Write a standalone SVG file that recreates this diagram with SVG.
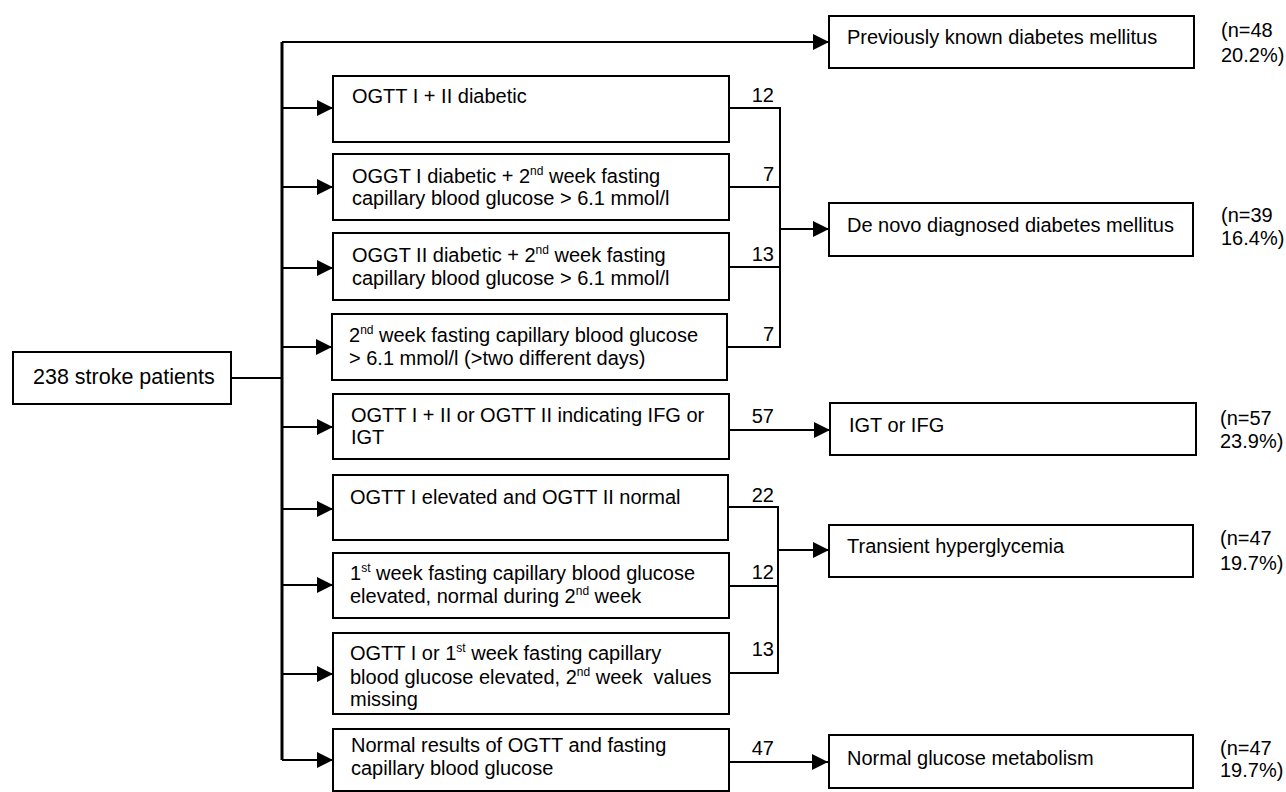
<svg xmlns="http://www.w3.org/2000/svg" width="1286" height="792" viewBox="0 0 1286 792">
<style>
.box{fill:#fff;stroke:#000;stroke-width:2}
.t{font-family:"Liberation Sans",Arial,sans-serif;font-size:20px;fill:#000}
.big{font-size:21.5px}
.n{font-family:"Liberation Sans",Arial,sans-serif;font-size:20px;fill:#000;text-anchor:end}
.sup{font-size:12px}
.c{fill:none;stroke:#000;stroke-width:2}
.trunk{fill:none;stroke:#000;stroke-width:3}
</style>
<defs>
<marker id="arr" markerUnits="userSpaceOnUse" markerWidth="17" markerHeight="17" refX="16" refY="8" orient="auto" viewBox="0 0 17 17">
<path d="M0,0 L16,8 L0,16 z" fill="#000"/>
</marker>
</defs>
<rect width="1286" height="792" fill="#fff"/>

<g id="connectors">
<path class="c" d="M231,378 H282"/>
<path class="trunk" d="M282,42 V760"/>
<path class="c" d="M282,42 H829" marker-end="url(#arr)"/>
<path class="c" d="M282,108 H333" marker-end="url(#arr)"/>
<path class="c" d="M282,187 H333" marker-end="url(#arr)"/>
<path class="c" d="M282,268 H333" marker-end="url(#arr)"/>
<path class="c" d="M282,347 H332" marker-end="url(#arr)"/>
<path class="c" d="M282,427 H333" marker-end="url(#arr)"/>
<path class="c" d="M282,509 H333" marker-end="url(#arr)"/>
<path class="c" d="M282,585 H333" marker-end="url(#arr)"/>
<path class="c" d="M282,674 H333" marker-end="url(#arr)"/>
<path class="c" d="M282,760 H333" marker-end="url(#arr)"/>
<path class="c" d="M729,108 H780 V347 H727"/>
<path class="c" d="M729,187 H780"/>
<path class="c" d="M729,267 H780"/>
<path class="c" d="M780,229 H829" marker-end="url(#arr)"/>
<path class="c" d="M729,430 H830" marker-end="url(#arr)"/>
<path class="c" d="M728,507 H778 V673 H729"/>
<path class="c" d="M729,586 H778"/>
<path class="c" d="M778,550 H829" marker-end="url(#arr)"/>
<path class="c" d="M729,762 H828" marker-end="url(#arr)"/>
<text class="n" x="774" y="102">12</text>
<text class="n" x="774" y="181">7</text>
<text class="n" x="774" y="261">13</text>
<text class="n" x="774" y="341">7</text>
<text class="n" x="774" y="423">57</text>
<text class="n" x="774" y="502">22</text>
<text class="n" x="774" y="579">12</text>
<text class="n" x="774" y="656">13</text>
<text class="n" x="774" y="755">47</text>
</g>

<g id="start">
<rect class="box" x="13" y="352" width="218" height="52"/>
<text class="t big" x="33" y="384">238 stroke patients</text>
</g>

<g id="c1">
<rect class="box" x="333" y="76" width="396" height="66"/>
<text class="t" x="352" y="103">OGTT I + II diabetic</text>
</g>
<g id="c2">
<rect class="box" x="333" y="154" width="396" height="66"/>
<text class="t" x="352" y="183">OGGT I diabetic + 2<tspan class="sup" dy="-8">nd</tspan><tspan dy="8"> week fasting</tspan></text>
<text class="t" x="352" y="205">capillary blood glucose &gt; 6.1 mmol/l</text>
</g>
<g id="c3">
<rect class="box" x="333" y="233" width="396" height="67"/>
<text class="t" x="352" y="262">OGGT II diabetic + 2<tspan class="sup" dy="-8">nd</tspan><tspan dy="8"> week fasting</tspan></text>
<text class="t" x="352" y="285">capillary blood glucose &gt; 6.1 mmol/l</text>
</g>
<g id="c4">
<rect class="box" x="332" y="314" width="395" height="66"/>
<text class="t" x="349" y="342">2<tspan class="sup" dy="-8">nd</tspan><tspan dy="8"> week fasting capillary blood glucose</tspan></text>
<text class="t" x="349" y="365">&gt; 6.1 mmol/l (&gt;two different days)</text>
</g>
<g id="c5">
<rect class="box" x="333" y="394" width="396" height="65"/>
<text class="t" x="351" y="422">OGTT I + II or OGTT II indicating IFG or</text>
<text class="t" x="351" y="444">IGT</text>
</g>
<g id="c6">
<rect class="box" x="333" y="475" width="395" height="65"/>
<text class="t" x="350" y="504">OGTT I elevated and OGTT II normal</text>
</g>
<g id="c7">
<rect class="box" x="333" y="553" width="396" height="65"/>
<text class="t" x="350" y="580">1<tspan class="sup" dy="-8">st</tspan><tspan dy="8"> week fasting capillary blood glucose</tspan></text>
<text class="t" x="350" y="603">elevated, normal during 2<tspan class="sup" dy="-8">nd</tspan><tspan dy="8"> week</tspan></text>
</g>
<g id="c8">
<rect class="box" x="333" y="633" width="396" height="81"/>
<text class="t" x="350" y="660">OGTT I or 1<tspan class="sup" dy="-8">st</tspan><tspan dy="8"> week fasting capillary</tspan></text>
<text class="t" x="350" y="684">blood glucose elevated, 2<tspan class="sup" dy="-8">nd</tspan><tspan dy="8"> week&#160; values</tspan></text>
<text class="t" x="350" y="706">missing</text>
</g>
<g id="c9">
<rect class="box" x="333" y="729" width="396" height="62"/>
<text class="t" x="351" y="752">Normal results of OGTT and fasting</text>
<text class="t" x="351" y="775">capillary blood glucose</text>
</g>

<g id="o1">
<rect class="box" x="829" y="16" width="365" height="52"/>
<text class="t" x="847" y="44">Previously known diabetes mellitus</text>
<text class="t" x="1221" y="37">(n=48</text>
<text class="t" x="1221" y="62">20.2%)</text>
</g>
<g id="o2">
<rect class="box" x="829" y="203" width="364" height="53"/>
<text class="t" x="847" y="232">De novo diagnosed diabetes mellitus</text>
<text class="t" x="1221" y="222">(n=39</text>
<text class="t" x="1221" y="245">16.4%)</text>
</g>
<g id="o3">
<rect class="box" x="830" y="403" width="366" height="52"/>
<text class="t" x="849" y="432">IGT or IFG</text>
<text class="t" x="1220" y="425">(n=57</text>
<text class="t" x="1220" y="448">23.9%)</text>
</g>
<g id="o4">
<rect class="box" x="829" y="525" width="364" height="52"/>
<text class="t" x="847" y="553">Transient hyperglycemia</text>
<text class="t" x="1220" y="545">(n=47</text>
<text class="t" x="1220" y="570">19.7%)</text>
</g>
<g id="o5">
<rect class="box" x="829" y="735" width="364" height="53"/>
<text class="t" x="847" y="765">Normal glucose metabolism</text>
<text class="t" x="1220" y="755">(n=47</text>
<text class="t" x="1220" y="777">19.7%)</text>
</g>
</svg>
